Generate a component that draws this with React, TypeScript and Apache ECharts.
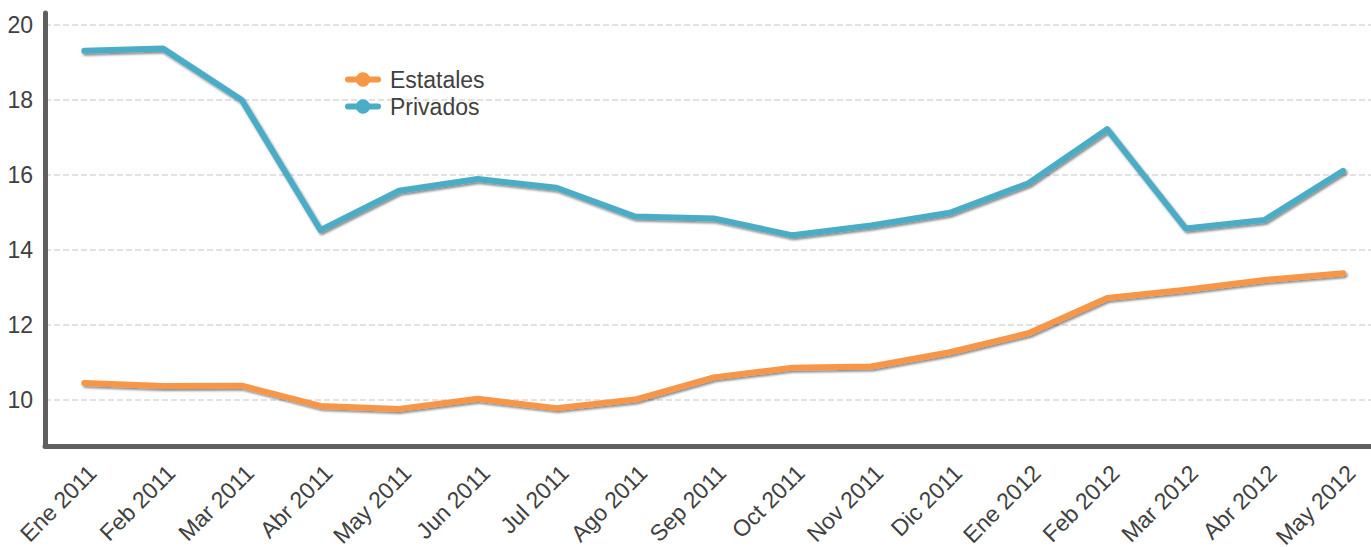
import React, { useEffect, useRef } from "react";
import * as echarts from "echarts";

const categories = [
  "Ene 2011", "Feb 2011", "Mar 2011", "Abr 2011", "May 2011", "Jun 2011",
  "Jul 2011", "Ago 2011", "Sep 2011", "Oct 2011", "Nov 2011", "Dic 2011",
  "Ene 2012", "Feb 2012", "Mar 2012", "Abr 2012", "May 2012",
];

const estatales = [
  10.45, 10.37, 10.38, 9.84, 9.76, 10.03, 9.78, 10.01, 10.6, 10.86, 10.89,
  11.27, 11.78, 12.72, 12.94, 13.2, 13.38,
];

const privados = [
  19.31, 19.37, 18.0, 14.53, 15.58, 15.89, 15.66, 14.89, 14.84, 14.39, 14.65,
  14.99, 15.78, 17.22, 14.57, 14.8, 16.11,
];

const FONT = "'Liberation Sans', Arial, Helvetica, sans-serif";
const TEXT_COLOR = "#404040";
const AXIS_COLOR = "#5f5f5f";

export default function App() {
  const ref = useRef<HTMLDivElement>(null);

  useEffect(() => {
    if (!ref.current) return;
    const chart = echarts.init(ref.current, null, { renderer: "svg" });
    const lineShadow = {
      shadowColor: "rgba(0,0,0,0.45)",
      shadowBlur: 2,
      shadowOffsetX: 1.5,
      shadowOffsetY: 2,
    };
    chart.setOption({
      animation: false,
      backgroundColor: "#ffffff",
      grid: {
        left: 45,
        right: -11.5,
        top: 13,
        bottom: 101,
        containLabel: false,
        outerBoundsMode: "none",
      },
      legend: {
        orient: "vertical",
        left: 340,
        top: 63,
        itemWidth: 30,
        itemHeight: 18,
        itemGap: 4,
        lineStyle: { width: 6, color: "inherit" },
        textStyle: {
          fontFamily: FONT,
          fontSize: 23,
          color: TEXT_COLOR,
          padding: [0, 0, 0, 7],
        },
        data: ["Estatales", "Privados"],
      },
      xAxis: {
        type: "category",
        data: categories,
        boundaryGap: true,
        axisLine: { show: true, lineStyle: { color: AXIS_COLOR, width: 5 } },
        axisTick: { show: false },
        axisLabel: {
          rotate: 45,
          interval: 0,
          margin: 15,
          verticalAlign: "top",
          fontFamily: FONT,
          fontSize: 23,
          color: TEXT_COLOR,
        },
        splitLine: { show: false },
      },
      yAxis: {
        type: "value",
        min: 8.77,
        max: 20.32,
        axisLine: { show: true, lineStyle: { color: AXIS_COLOR, width: 5 } },
        axisTick: { show: false },
        axisLabel: {
          showMinLabel: false,
          showMaxLabel: false,
          margin: 12,
          fontFamily: FONT,
          fontSize: 23,
          color: TEXT_COLOR,
        },
        splitLine: {
          show: true,
          showMinLine: false,
          showMaxLine: false,
          lineStyle: { color: "#d9d9d9", width: 1.5, type: [6, 3] },
        },
      },
      series: [
        {
          name: "Estatales",
          type: "line",
          data: estatales,
          showSymbol: false,
          symbol: "circle",
          color: "#f79646",
          lineStyle: { width: 6, color: "#f79646", cap: "round", join: "round", ...lineShadow },
          z: 3,
        },
        {
          name: "Privados",
          type: "line",
          data: privados,
          showSymbol: false,
          symbol: "circle",
          color: "#4bacc6",
          lineStyle: { width: 6, color: "#4bacc6", cap: "round", join: "round", ...lineShadow },
          z: 3,
        },
      ],
    });
    return () => chart.dispose();
  }, []);

  return (
    <div
      ref={ref}
      style={{ position: "absolute", left: 0, top: 0, width: 1371, height: 547 }}
    />
  );
}
